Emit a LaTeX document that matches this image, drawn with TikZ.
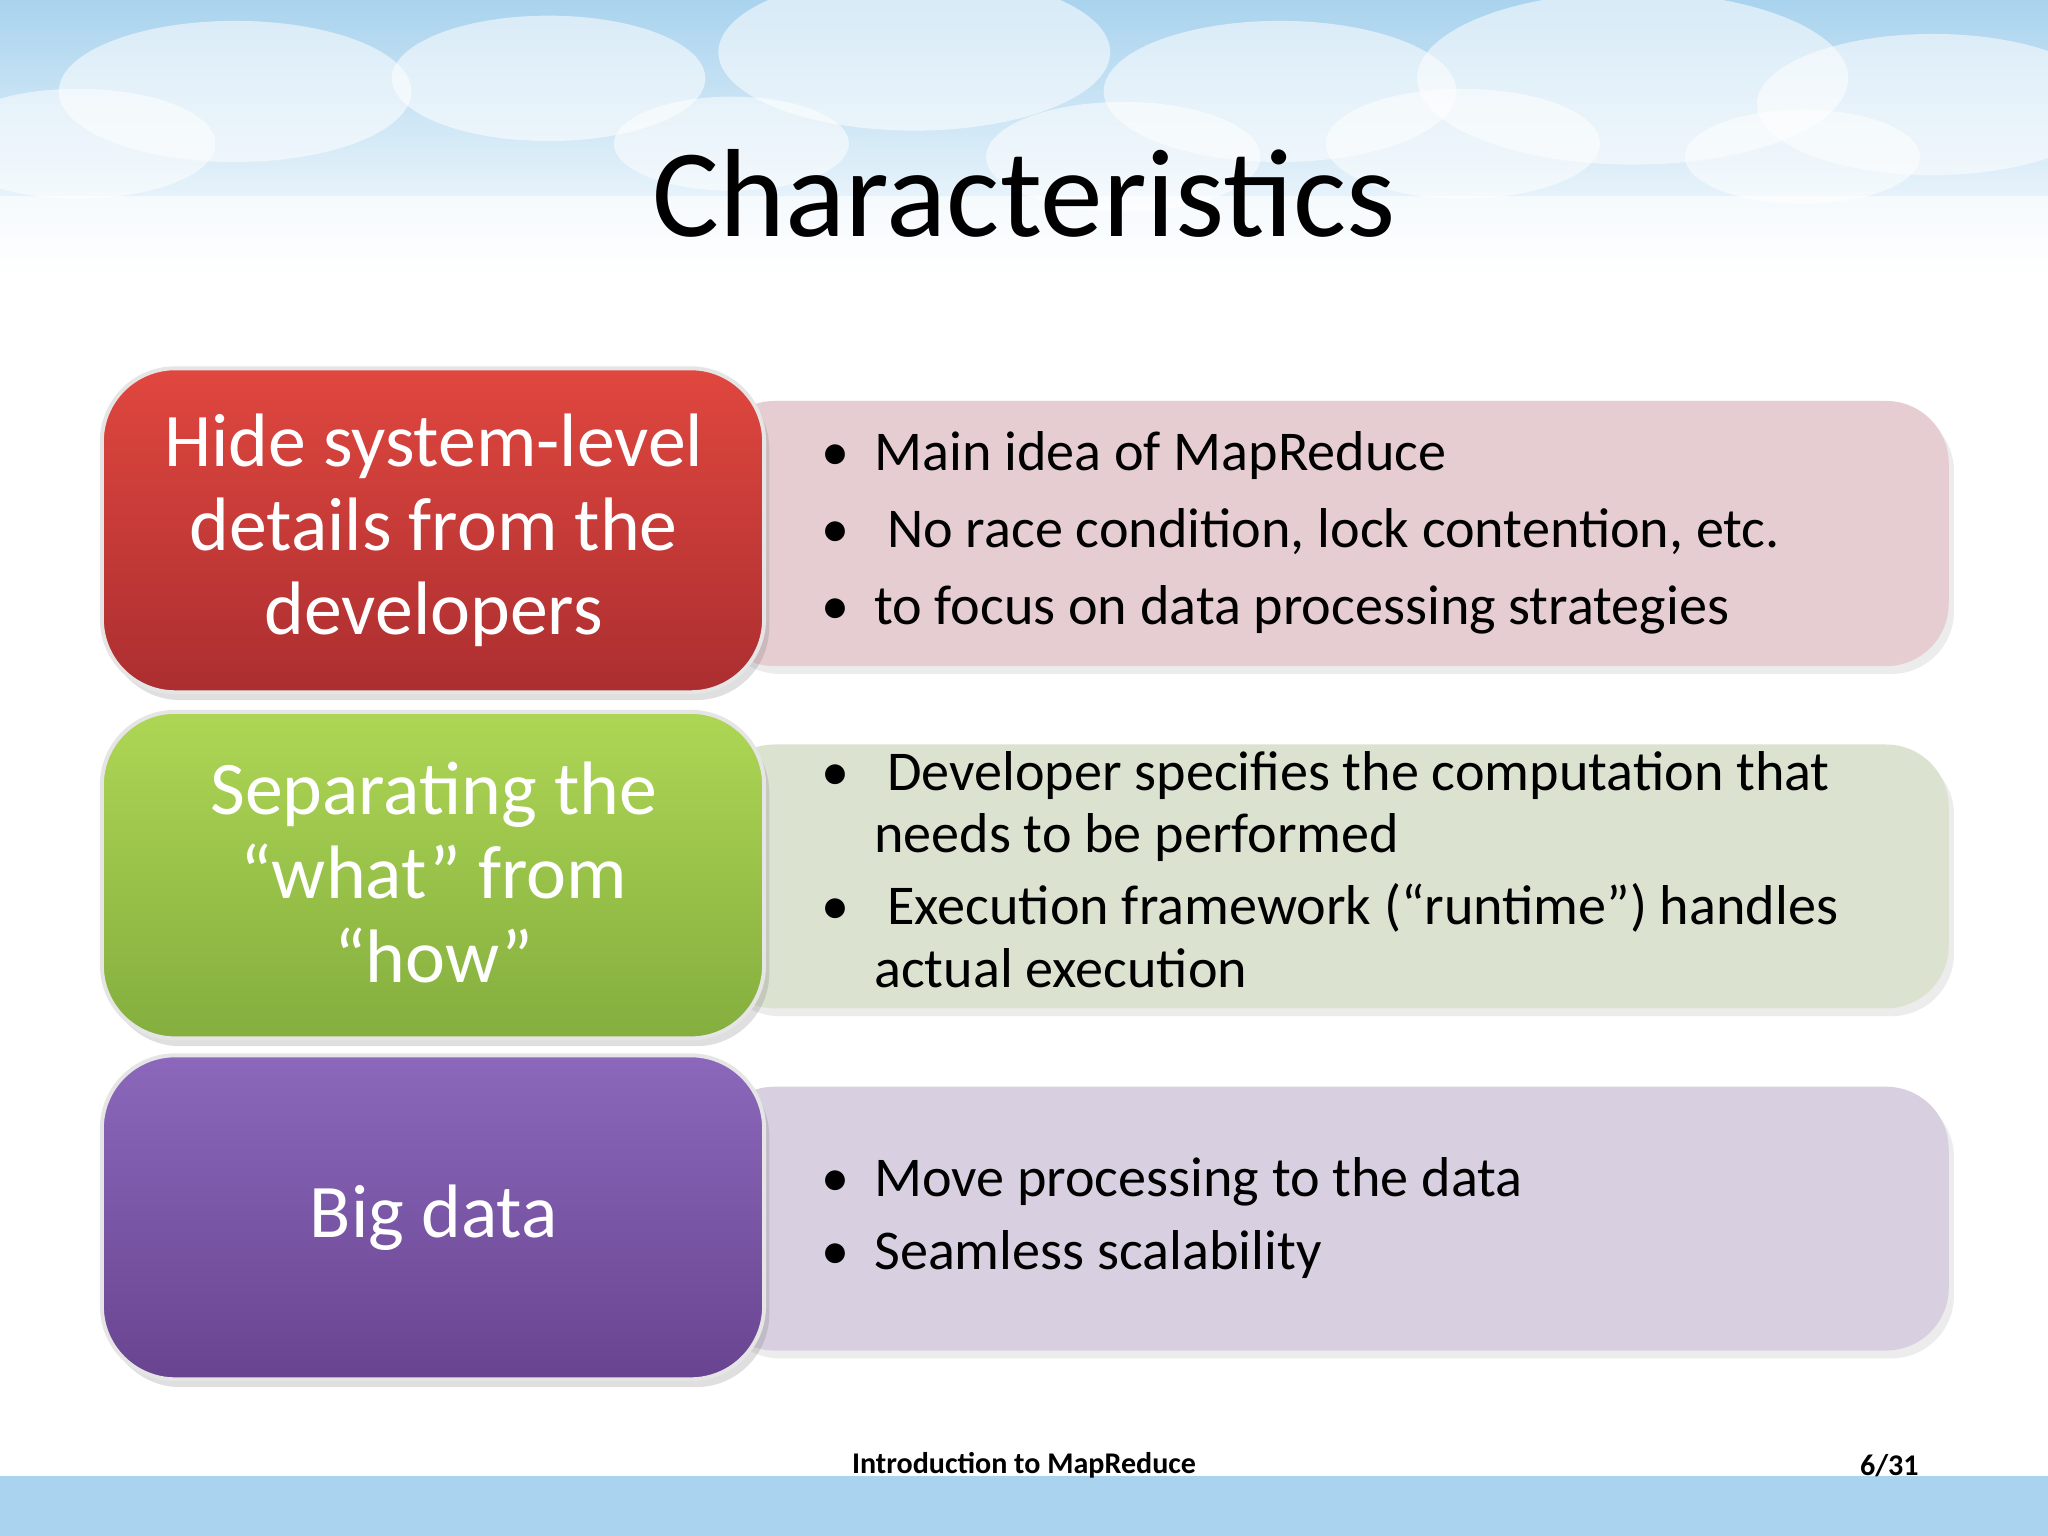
\documentclass[tikz,border=0pt]{standalone}
\usepackage{fontspec}
\setmainfont{Carlito}
\usetikzlibrary{shadows}
\definecolor{sky}{HTML}{A9D3EE}
\definecolor{rtop}{HTML}{E0473F}\definecolor{rbot}{HTML}{AC2E30}
\definecolor{gtop}{HTML}{AED655}\definecolor{gbot}{HTML}{84AE3E}
\definecolor{ptop}{HTML}{8C68BC}\definecolor{pbot}{HTML}{684490}
\definecolor{rpale}{HTML}{E6CDD2}\definecolor{gpale}{HTML}{DCE2D0}\definecolor{ppale}{HTML}{D8D0E0}
\tikzset{
 lbox/.style={rounded corners=28, draw=white!80!gray, line width=1.5pt, drop shadow={opacity=0.25,shadow xshift=2pt,shadow yshift=-3pt}},
 rbox/.style={rounded corners=24, drop shadow={opacity=0.15,shadow xshift=2pt,shadow yshift=-3pt}},
 ltext/.style={text=white, align=center, font=\fontsize{29}{32}\selectfont},
 rtext/.style={anchor=base west, inner sep=0pt, font=\fontsize{21.5}{24}\selectfont},
 bul/.style={anchor=base, inner sep=0pt, font=\fontsize{21.5}{24}\selectfont},
}
\begin{document}
\begin{tikzpicture}[x=0.5pt,y=-0.5pt]
\useasboundingbox (0,0) rectangle (1568,1176);
\fill[white] (0,0) rectangle (1568,1176);
\shade[top color=sky, bottom color=white] (0,0) rectangle (1568,210);
\foreach \x/\y/\r in {180/70/90,420/60/80,700/40/100,980/70/90,1250/60/110,1480/80/90,60/110/70,560/110/60,860/120/70,1120/110/70,1380/120/60}
  \fill[white, opacity=0.55] (\x,\y) ellipse ({\r*1.5} and \r*0.6);
\fill[white,opacity=0.6] (0,150) rectangle (1568,210);
\fill[sky] (0,1130) rectangle (1568,1176);
\node (title) at (784,148) {\fontsize{48}{52}\selectfont Characteristics};
% rows
\path[rbox, fill=rpale] (545,307) rectangle (1492,510);
\path[lbox, top color=rtop, bottom color=rbot] (78,282) rectangle (585,530);
\node[ltext] (l1) at (332,406) {Hide system-level\\details from the\\developers};
\path[rbox, fill=gpale] (545,570) rectangle (1492,772);
\path[lbox, top color=gtop, bottom color=gbot] (78,545) rectangle (585,795);
\node[ltext] (l2) at (332,668) {Separating the\\“what” from\\“how”};
\path[rbox, fill=ppale] (545,832) rectangle (1492,1034);
\path[lbox, top color=ptop, bottom color=pbot] (78,808) rectangle (585,1056);
\node[ltext] (l3) at (332,932) {Big data};
% bullets
\foreach \n/\y in {1/360,2/419,3/478,4/605,5/708,6/916,7/972}
  \node[bul] (b\n) at (640,\y) {•};
\node[rtext] (t1) at (669,360) {Main idea of MapReduce};
\node[rtext] (t2) at (679,419) {No race condition, lock contention, etc.};
\node[rtext] (t3) at (669,478) {to focus on data processing strategies};
\node[rtext] (t4) at (679,605) {Developer specifies the computation that};
\node[rtext] (t4b) at (669,653) {needs to be performed};
\node[rtext] (t5) at (679,708) {Execution framework (“runtime”) handles};
\node[rtext] (t5b) at (669,756) {actual execution};
\node[rtext] (t6) at (669,916) {Move processing to the data};
\node[rtext] (t7) at (669,972) {Seamless scalability};
\node (foot) at (784,1122) {\fontsize{11.5}{12}\selectfont\bfseries Introduction to MapReduce};
\node[anchor=east] (page) at (1476,1122) {\fontsize{11.5}{12}\selectfont\bfseries 6/31};
\end{tikzpicture}
\end{document}
